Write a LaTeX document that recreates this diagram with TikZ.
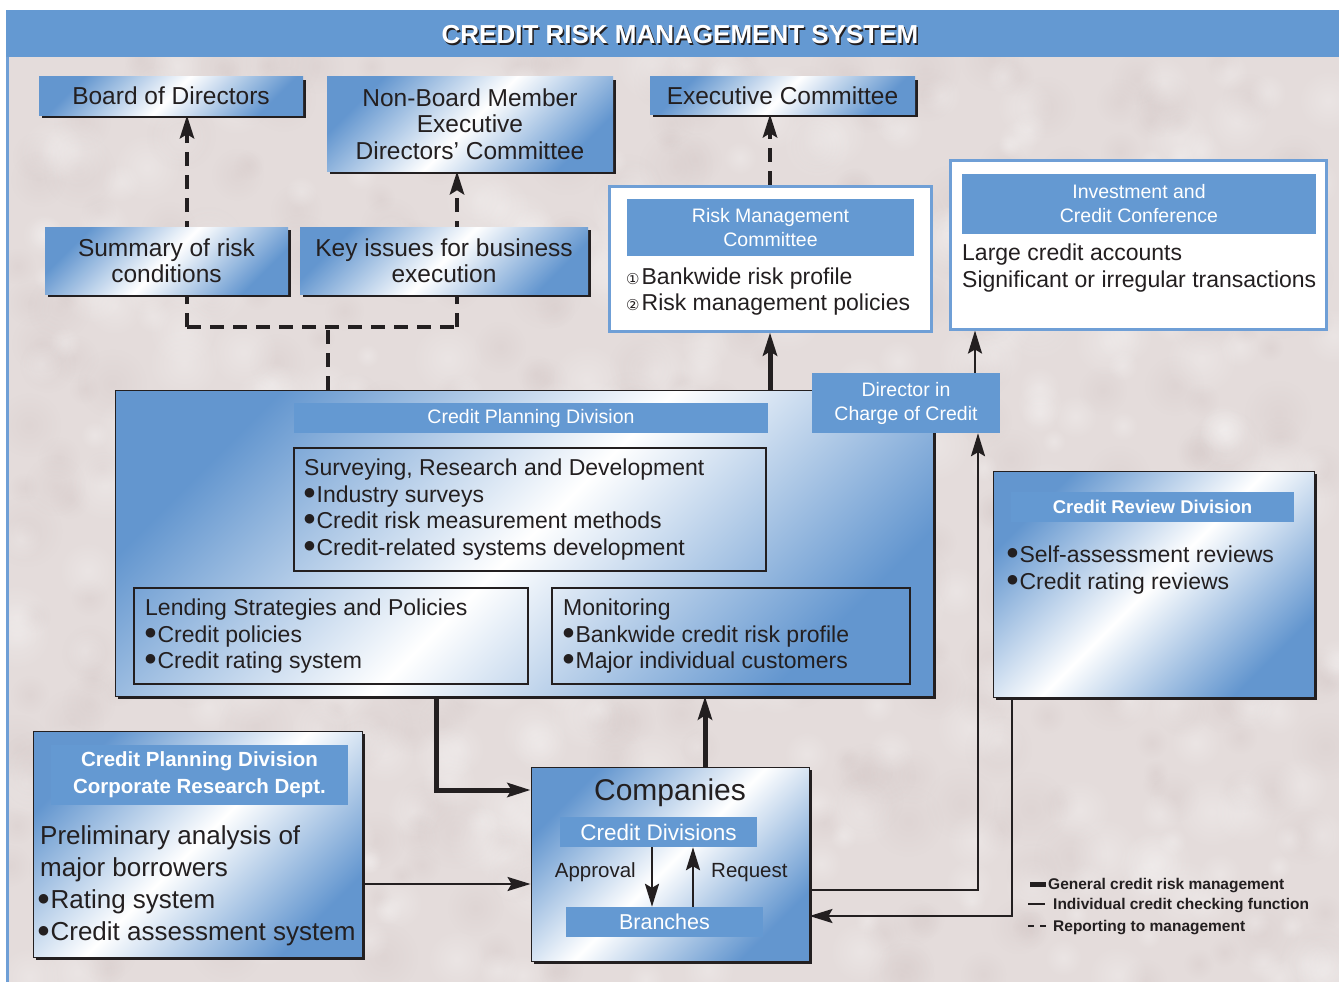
\documentclass[tikz,border=0pt]{standalone}
\usepackage{fontspec}
\setmainfont{Liberation Sans}
\newfontfamily\djv{DejaVu Sans}
\usetikzlibrary{arrows.meta,shadows,fadings}

\definecolor{hdrblue}{HTML}{6499D2}
\definecolor{boxblue}{HTML}{6396CF}
\definecolor{paper}{HTML}{E4DCDB}
\definecolor{paperdark}{HTML}{D2C5C4}
\definecolor{ink}{HTML}{231F20}
\definecolor{rimblue}{HTML}{6F9FD6}

\tikzfading[name=softblob, inner color=transparent!0, outer color=transparent!100]

\newcommand\fTitle{\fontsize{26}{30}\selectfont\bfseries}
\newcommand\fTop{\fontsize{24.5}{26.5}\selectfont}
\newcommand\fBody{\fontsize{23}{26.7}\selectfont}
\newcommand\fHdr{\fontsize{19.5}{24}\selectfont}
\newcommand\fLeft{\fontsize{26}{32}\selectfont}
\newcommand\fComp{\fontsize{30}{34}\selectfont}
\newcommand\fSide{\fontsize{20.5}{24}\selectfont}
\newcommand\fLeg{\fontsize{15.5}{20}\selectfont\bfseries}
\newcommand\circnum[1]{{\djv\fontsize{15}{15}\selectfont#1}\kern2pt}
% round bullet drawn from a small glyph so the line box stays compact
\newcommand\bul{\raisebox{0.22em}{\djv\fontsize{12.5}{12.5}\selectfont ●}\kern1.5pt}

\pgfdeclarelayer{paperlayer}
\pgfdeclarelayer{lines}
\pgfsetlayers{paperlayer,lines,main}

\tikzset{
  gbox/.style={inner sep=0pt, text=ink, align=center,
    top color=boxblue, bottom color=boxblue, middle color=white, shading angle=45,
    drop shadow={shadow xshift=3pt, shadow yshift=-3pt, fill=ink, opacity=1}},
  gboxd/.style={gbox, draw=ink, line width=0.9pt},
  hdr/.style={fill=hdrblue, inner sep=0pt, text=white, align=center},
  wbox/.style={fill=white, draw=rimblue, line width=3pt, inner sep=0pt},
  ibox/.style={draw=ink, line width=2pt, inner sep=0pt},
  txt/.style={inner sep=0pt, anchor=base west, text=ink},
  tipbig/.style={-{Stealth[length=23pt,width=14pt,inset=4pt]}},
  general/.style={line width=5pt, draw=ink, line join=miter, tipbig},
  individual/.style={line width=2.6pt, draw=ink, line join=miter, tipbig},
  reporting/.style={line width=4.6pt, draw=ink, dash pattern=on 14pt off 9pt},
  legtxt/.style={inner sep=0pt, anchor=base west, text=ink, font=\fLeg},
}

\begin{document}
\begin{tikzpicture}[x=1pt,y=-1pt]
\useasboundingbox (0,0) rectangle (1339,982);

% paper, frame and title band
\begin{pgfonlayer}{paperlayer}
  \fill[white] (0,0) rectangle (1339,982);
  \fill[paper] (6,57) rectangle (1339,982);
  \begin{scope}
    \clip (9,57) rectangle (1339,982);
    \pgfmathsetseed{11}
    \foreach \i in {1,...,380}{
      \pgfmathsetmacro\xx{9+1330*rnd}
      \pgfmathsetmacro\yy{57+925*rnd}
      \pgfmathsetmacro\rr{12+26*rnd}
      \fill[paperdark, opacity=0.3, path fading=softblob] (\xx,\yy) circle[radius=\rr];
    }
    \foreach \i in {1,...,380}{
      \pgfmathsetmacro\xx{9+1330*rnd}
      \pgfmathsetmacro\yy{57+925*rnd}
      \pgfmathsetmacro\rr{12+26*rnd}
      \fill[white, opacity=0.25, path fading=softblob] (\xx,\yy) circle[radius=\rr];
    }
  \end{scope}
  \fill[rimblue] (6,57) rectangle (9,982);
  \fill[hdrblue] (6,10) rectangle (1339,57);
\end{pgfonlayer}

\node[font=\fTitle, text=ink] (titleshade) at (681.5,36.5) {CREDIT RISK MANAGEMENT SYSTEM};
\node[font=\fTitle, text=white] (title) at (680,35) {CREDIT RISK MANAGEMENT SYSTEM};

% top row
\node[gbox, font=\fTop, minimum width=264pt, minimum height=38pt] (board) at (171,96) {Board of Directors};
\node[gbox, font=\fTop, minimum width=286pt, minimum height=94pt] (nbm) at (470,124)
  {Non-Board Member\\Executive\\Directors\textquoteright\ Committee};
\node[gbox, font=\fTop, minimum width=265pt, minimum height=37pt] (exec) at (782.5,95.5) {Executive Committee};

\node[gbox, font=\fTop, minimum width=243pt, minimum height=67pt] (summary) at (166.5,260.5) {Summary of risk\\conditions};
\node[gbox, font=\fTop, minimum width=288pt, minimum height=67pt] (keyiss) at (444,260.5) {Key issues for business\\execution};

% risk management committee
\node[wbox, minimum width=322pt, minimum height=145pt] (rmc) at (770,258.5) {};
\node[hdr, font=\fHdr, minimum width=287pt, minimum height=57pt] (rmchdr) at (770.5,227.5) {Risk Management\\Committee};
\node[txt, font=\fBody] (rmc1) at (626,284) {\circnum{①}Bankwide risk profile};
\node[txt, font=\fBody] (rmc2) at (626,310) {\circnum{②}Risk management policies};

% investment and credit conference
\node[wbox, minimum width=376pt, minimum height=169pt] (inv) at (1138,244.5) {};
\node[hdr, font=\fHdr, minimum width=354pt, minimum height=60pt] (invhdr) at (1139,204) {Investment and\\Credit Conference};
\node[txt, font=\fBody] (inv1) at (962,260) {Large credit accounts};
\node[txt, font=\fBody] (inv2) at (962,287) {Significant or irregular transactions};

% credit planning division
\node[gboxd, minimum width=818pt, minimum height=306pt] (cpd) at (524,543) {};
\node[hdr, font=\fHdr, minimum width=474pt, minimum height=30pt] (cpdhdr) at (531,418) {Credit Planning Division};
\node[hdr, font=\fHdr, minimum width=188pt, minimum height=60pt] (dir) at (906,403) {Director in\\Charge of Credit};

\node[ibox, minimum width=472pt, minimum height=123pt] (survey) at (530,509.5) {};
\node[txt, font=\fBody] (sv0) at (304,475) {Surveying, Research and Development};
\node[txt, font=\fBody] (sv1) at (304,502) {\bul Industry surveys};
\node[txt, font=\fBody] (sv2) at (304,528) {\bul Credit risk measurement methods};
\node[txt, font=\fBody] (sv3) at (304,555) {\bul Credit-related systems development};

\node[ibox, minimum width=394pt, minimum height=96pt] (lend) at (331,636) {};
\node[txt, font=\fBody] (ld0) at (145,615) {Lending Strategies and Policies};
\node[txt, font=\fBody] (ld1) at (145,642) {\bul Credit policies};
\node[txt, font=\fBody] (ld2) at (145,668) {\bul Credit rating system};

\node[ibox, minimum width=358pt, minimum height=96pt] (mon) at (731,636) {};
\node[txt, font=\fBody] (mn0) at (563,615) {Monitoring};
\node[txt, font=\fBody] (mn1) at (563,642) {\bul Bankwide credit risk profile};
\node[txt, font=\fBody] (mn2) at (563,668) {\bul Major individual customers};

% credit review division
\node[gboxd, minimum width=321pt, minimum height=226pt] (crd) at (1153.5,584) {};
\node[hdr, font=\fontsize{18.5}{22}\selectfont\bfseries, minimum width=283pt, minimum height=30pt] (crdhdr) at (1152.5,507) {Credit Review Division};
\node[txt, font=\fBody] (cr1) at (1007,562) {\bul Self-assessment reviews};
\node[txt, font=\fBody] (cr2) at (1007,589) {\bul Credit rating reviews};

% corporate research department
\node[gboxd, minimum width=329pt, minimum height=226pt] (corp) at (197.5,844) {};
\node[hdr, font=\fontsize{20.5}{27}\selectfont\bfseries, minimum width=297pt, minimum height=60pt] (corphdr) at (199.5,775)
  {Credit Planning Division\\Corporate Research Dept.};
\node[txt, font=\fLeft] (cp1) at (40,844) {Preliminary analysis of};
\node[txt, font=\fLeft] (cp2) at (40,876) {major borrowers};
\node[txt, font=\fLeft] (cp3) at (38,908) {\bul Rating system};
\node[txt, font=\fLeft] (cp4) at (38,940) {\bul Credit assessment system};

% companies
\node[gboxd, minimum width=278pt, minimum height=194pt] (comp) at (670,864) {};
\node[text=ink, font=\fComp, inner sep=0pt] (comptxt) at (670,793) {Companies};
\node[hdr, font=\fontsize{22.5}{26}\selectfont, minimum width=197pt, minimum height=30pt] (cdiv) at (658.5,832) {Credit Divisions};
\node[hdr, font=\fontsize{21.5}{26}\selectfont, minimum width=197pt, minimum height=30pt] (branch) at (664.5,922) {Branches};
\node[inner sep=0pt, text=ink, font=\fSide, anchor=base east] (appr) at (636,877) {Approval};
\node[inner sep=0pt, text=ink, font=\fSide, anchor=base west] (reqst) at (711,877) {Request};

% legend
\fill[ink] (1030,881.5) rectangle (1046,886.5);
\fill[ink] (1028,902.7) rectangle (1045,905.3);
\fill[ink] (1028,924.7) rectangle (1034,927.3);
\fill[ink] (1040,924.7) rectangle (1046,927.3);
\node[legtxt] (lg1) at (1048,889.5) {General credit risk management};
\node[legtxt] (lg2) at (1053,909.5) {Individual credit checking function};
\node[legtxt] (lg3) at (1053,931.5) {Reporting to management};

% bend points of the connectors
\coordinate (jM) at (328,327);
\coordinate (jL) at (187,327);
\coordinate (jR) at (457,327);
\coordinate (cRep) at (978,890);
\coordinate (cRev) at (1012,916);
\coordinate (cDown) at (436,790);
\coordinate (cUp) at (705,767);
\coordinate (cLeft) at (362,884);
\coordinate (cApp) at (652,870);
\coordinate (cReq) at (693,870);
\coordinate (cInv) at (975,350);

\begin{pgfonlayer}{lines}
  % reporting to management
  \draw[reporting] (cpd.north -| jM) -- (jM);
  \draw[reporting] (jL) -- (jR);
  \draw[reporting, tipbig] (jL) -- (jL |- board.south);
  \draw[reporting, tipbig] (jR) -- (jR |- nbm.south);
  \draw[reporting, tipbig] (rmc.north) -- (rmc.north |- exec.south);
  % general credit risk management
  \draw[general] (cpd.north -| rmc.south) -- (rmc.south);
  \draw[general] (cDown |- cpd.south) -- (cDown) -- (comp.west |- cDown);
  \draw[general] (cUp |- comp.north) -- (cUp |- cpd.south);
  % individual credit checking function
  \draw[individual] (cInv |- dir.north) -- (cInv |- inv.south);
  \draw[individual] (comp.east |- cRep) -- (cRep) -- (cRep |- dir.south);
  \draw[individual] (cRev |- crd.south) -- (cRev) -- (comp.east |- cRev);
  \draw[individual] (corp.east |- cLeft) -- (comp.west |- cLeft);
\end{pgfonlayer}
\draw[individual] (cApp |- cdiv.south) -- (cApp |- branch.north);
\draw[individual] (cReq |- branch.north) -- (cReq |- cdiv.south);
\end{tikzpicture}
\end{document}
